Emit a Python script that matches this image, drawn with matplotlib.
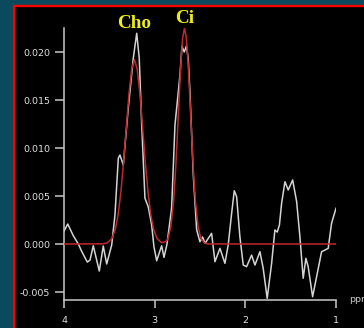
import matplotlib
matplotlib.use("Agg")
import matplotlib.pyplot as plt
from matplotlib.patches import Rectangle

# ---- data ----
spec_ppm = [4.000, 3.959, 3.897, 3.842, 3.805, 3.743, 3.713, 3.677, 3.611, 3.567,
            3.529, 3.474, 3.438, 3.401, 3.383, 3.346, 3.291, 3.236, 3.198, 3.170,
            3.143, 3.107, 3.071, 3.033, 3.008, 2.978, 2.923, 2.897, 2.864, 2.813,
            2.776, 2.721, 2.699, 2.674, 2.650, 2.630, 2.611, 2.574, 2.537, 2.501,
            2.471, 2.445, 2.372, 2.335, 2.280, 2.225, 2.189, 2.151, 2.122, 2.096,
            2.060, 2.023, 1.986, 1.931, 1.894, 1.839, 1.803, 1.759, 1.710, 1.674,
            1.648, 1.624, 1.600, 1.563, 1.527, 1.478, 1.434, 1.398, 1.362, 1.332,
            1.307, 1.258, 1.214, 1.159, 1.122, 1.086, 1.049, 1.000]
spec_val = [0.00135, 0.00208, 0.00086, 0.00000, -0.00076, -0.00188, -0.00167, -0.00018, -0.00281, -0.00021,
            -0.00208, -0.00010, 0.00302, 0.00893, 0.00927, 0.00823, 0.01417, 0.01934, 0.02195, 0.01934,
            0.01240, 0.00476, 0.00389, 0.00198, -0.00028, -0.00174, -0.00018, -0.00139, 0.00000, 0.00375,
            0.01240, 0.01760, 0.02060, 0.02000, 0.02060, 0.01934, 0.01586, 0.00719, 0.00150, 0.00024,
            0.00073, 0.00007, 0.00111, -0.00184, -0.00045, -0.00201, -0.00010, 0.00320, 0.00555, 0.00493,
            0.00076, -0.00219, -0.00236, -0.00115, -0.00219, -0.00080, -0.00253, -0.00566, -0.00201, 0.00146,
            0.00125, 0.00198, 0.00424, 0.00649, 0.00563, 0.00667, 0.00441, 0.00076, -0.00357, -0.00149,
            -0.00236, -0.00549, -0.00341, -0.00080, -0.00063, -0.00045, 0.00216, 0.00372]

fit_ppm = [4.000, 3.573, 3.523, 3.473, 3.433, 3.403, 3.373, 3.343, 3.313, 3.283,
           3.253, 3.223, 3.193, 3.163, 3.133, 3.103, 3.073, 3.043, 3.013, 2.973,
           2.923, 2.873, 2.851, 2.821, 2.791, 2.771, 2.751, 2.731, 2.711, 2.691,
           2.671, 2.651, 2.631, 2.611, 2.591, 2.571, 2.551, 2.521, 2.491, 2.451,
           2.411, 1.000]
fit_val = [0.0, 0.00002, 0.00012, 0.00056, 0.00158, 0.00307, 0.00538, 0.00851, 0.01213, 0.01567,
           0.01824, 0.01920, 0.01824, 0.01567, 0.01213, 0.00851, 0.00538, 0.00307, 0.00158, 0.00056,
           0.00014, 0.00026, 0.00061, 0.00184, 0.00452, 0.00738, 0.01103, 0.01508, 0.01883, 0.02151,
           0.02250, 0.02151, 0.01883, 0.01508, 0.01103, 0.00738, 0.00452, 0.00184, 0.00061, 0.00010,
           0.00001, 0.0]

x_ticks = [4, 3, 2, 1]
y_ticks = [-0.005, 0.000, 0.005, 0.010, 0.015, 0.020]
y_tick_labels = ["-0.005", "0.000", "0.005", "0.010", "0.015", "0.020"]
peak_labels = ["Cho", "Ci"]

W, H = 364, 328
fig = plt.figure(figsize=(W / 100, H / 100), dpi=100)
fig.patch.set_facecolor("#0b4a5c")

# black panel with red frame
panel = Rectangle((14 / W, -0.2), 1.0, (H - 6) / H + 0.2, transform=fig.transFigure,
                  facecolor="black", edgecolor="#ff0000", linewidth=1.7, zorder=-5)
fig.patches.append(panel)

ax = fig.add_axes([64 / W, (H - 300) / H, 272 / W, 272 / H])
ax.set_zorder(2)
ax.set_facecolor("none")
ax.plot(spec_ppm, spec_val, color="#d4d4d4", lw=1.1, zorder=2)
ax.plot(fit_ppm, fit_val, color="#c0282c", lw=1.1, zorder=3)

ax.set_xlim(4, 1)
ax.set_ylim(-0.00583, 0.0225)
ax.set_xticks(x_ticks)
ax.set_xticklabels([str(t) for t in x_ticks])
ax.set_yticks(y_ticks)
ax.set_yticklabels(y_tick_labels)

for s in ["top", "right"]:
    ax.spines[s].set_visible(False)
for s in ["left", "bottom"]:
    ax.spines[s].set_color("#c8c8c8")
    ax.spines[s].set_linewidth(1.1)

ax.tick_params(axis="y", direction="out", length=6.5, width=1.1, color="#c8c8c8",
               labelcolor="#e0e0e0", labelsize=6.8, pad=3.6)
ax.tick_params(axis="x", direction="out", length=5.5, width=1.1, color="#c8c8c8",
               labelcolor="#e0e0e0", labelsize=6.8, pad=5.8)

fig.text(349 / W, (H - 300) / H, "ppm", color="#c8c8c8", fontsize=6.8,
         ha="left", va="center", zorder=3)

fig.text(134 / W, (H - 28) / H, peak_labels[0], color="#eeee10", fontsize=13.8,
         fontweight="bold", family="Liberation Serif", ha="center", va="baseline", zorder=3)
fig.text(185 / W, (H - 23) / H, peak_labels[1], color="#eeee10", fontsize=13.8,
         fontweight="bold", family="Liberation Serif", ha="center", va="baseline", zorder=3)

fig.savefig("out.png", dpi=100, facecolor=fig.get_facecolor())
